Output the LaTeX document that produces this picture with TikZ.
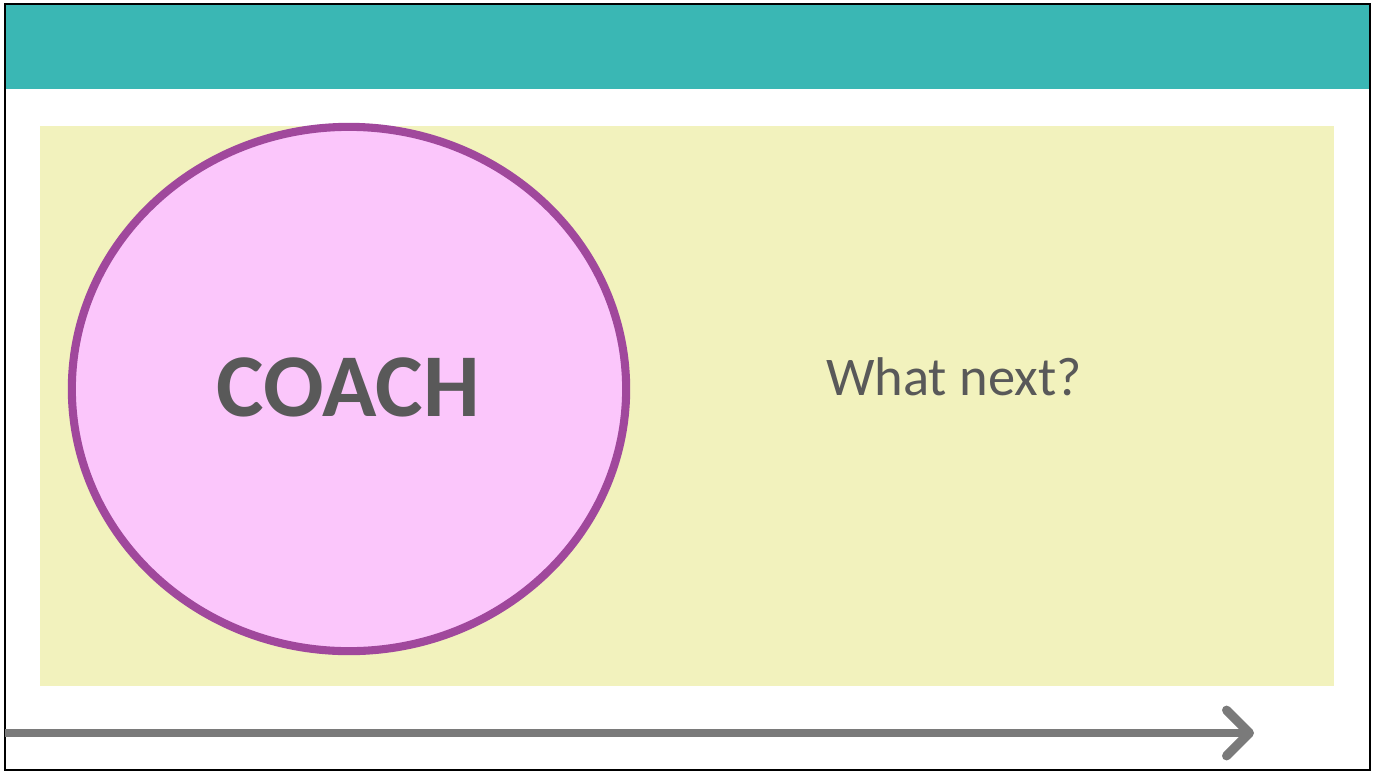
\documentclass[tikz,border=0pt]{standalone}
\usepackage{fontspec}
\setmainfont{Carlito}
\usepackage{xcolor}
\usetikzlibrary{positioning, arrows.meta}

\definecolor{bannerteal}{HTML}{3AB7B4}
\definecolor{panelyellow}{HTML}{F2F2BD}
\definecolor{coachpink}{HTML}{FBC6FB}
\definecolor{coachpurple}{HTML}{A0489C}
\definecolor{textgray}{HTML}{595959}
\definecolor{arrowgray}{HTML}{7A7A7A}

\tikzset{
  coachcircle/.style={ellipse, draw=coachpurple, fill=coachpink, line width=2.3pt,
    minimum width=5.54cm, minimum height=5.24cm, inner sep=0pt},
  bigtext/.style={text=textgray, font=\fontsize{25.5}{30}\selectfont\bfseries},
  smalltext/.style={text=textgray, font=\fontsize{15.5}{19}\selectfont},
}
\usetikzlibrary{shapes.geometric}

\begin{document}
\begin{tikzpicture}[x=0.01cm, y=-0.01cm]
  \useasboundingbox (0,0) rectangle (1375,772);

  % Banner and panel
  \fill[bannerteal] (5,4) rectangle (1370,89);
  \fill[panelyellow] (40,126) rectangle (1334,686);

  % Outer frame
  \draw[line width=0.8pt, black] (5,4) rectangle (1370,770);

  % Coach circle and question
  \node[coachcircle] (coach) at (349,389) {};
  \node[bigtext] (coachlabel) at (348,387) {COACH};
  \node[smalltext] (whatnext) at (954,377) {What next?};

  % Time line along the bottom
  \coordinate (timestart) at (5,733);
  \coordinate (timeend) at (1254,733);
  \draw[arrowgray, line width=2pt, -{Straight Barb[length=6.5pt, width=13pt, line width=2.6pt, line join=round, line cap=round]}] (timestart) -- (timeend);
\end{tikzpicture}
\end{document}
